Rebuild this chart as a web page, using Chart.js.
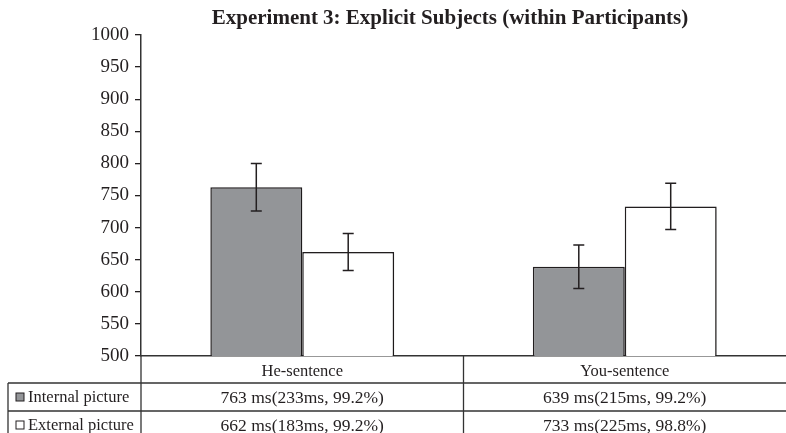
<!DOCTYPE html>
<html>
<head>
<meta charset="utf-8">
<script src="https://cdn.jsdelivr.net/npm/chart.js@4/dist/chart.umd.min.js"></script>
<style>
    html, body { margin: 0; padding: 0; background: #fff; }
    #wrap { width: 786px; height: 433px; position: relative; }
</style>
</head>
<body>
<div id="wrap"><canvas id="expChart"></canvas></div>
<script>
// Data
const categories = ['He-sentence', 'You-sentence'];
const seriesNames = ['Internal picture', 'External picture'];
const internalRT = [763, 639];
const externalRT = [662, 733];
const internalErr = [37, 34];
const externalErr = [29, 36];
const internalCells = ['763 ms(233ms, 99.2%)', '639 ms(215ms, 99.2%)'];
const externalCells = ['662 ms(183ms, 99.2%)', '733 ms(225ms, 98.8%)'];
const yTicks = [500, 550, 600, 650, 700, 750, 800, 850, 900, 950, 1000];

const titleText = 'Experiment 3: Explicit Subjects (within Participants)';
const serif = '"Liberation Serif", "Times New Roman", serif';
const ink = '#231f20';
const grayFill = '#939598';

const errors = [internalErr, externalErr];
const cells = [internalCells, externalCells];
const fills = [grayFill, '#ffffff'];

// Error bars, bar shadow, title and the data table underneath
const figurePlugin = {
    id: 'figurePlugin',
    beforeDatasetsDraw(chart) {
        const ctx = chart.ctx;
        ctx.save();
        ctx.shadowColor = 'rgba(0,0,0,0.22)';
        ctx.shadowBlur = 3;
        ctx.shadowOffsetX = 2;
        ctx.shadowOffsetY = 1;
    },
    afterDatasetsDraw(chart) {
        const ctx = chart.ctx;
        ctx.restore();
        const yScale = chart.scales.y;

        ctx.save();
        ctx.strokeStyle = ink;
        ctx.lineWidth = 1.5;
        chart.data.datasets.forEach((ds, di) => {
            const meta = chart.getDatasetMeta(di);
            meta.data.forEach((bar, i) => {
                const v = ds.data[i];
                const e = errors[di][i];
                const x = bar.x;
                const yHi = yScale.getPixelForValue(v + e);
                const yLo = yScale.getPixelForValue(v - e);
                ctx.beginPath();
                ctx.moveTo(x, yHi); ctx.lineTo(x, yLo);
                ctx.moveTo(x - 5.5, yHi); ctx.lineTo(x + 5.5, yHi);
                ctx.moveTo(x - 5.5, yLo); ctx.lineTo(x + 5.5, yLo);
                ctx.stroke();
            });
        });
        ctx.restore();
    },
    afterDraw(chart) {
        const ctx = chart.ctx;
        const area = chart.chartArea;
        const xScale = chart.scales.x;
        const catW = (xScale.right - xScale.left) / categories.length;
        const W = chart.width;
        const H = chart.height;
        const rowTop = [area.bottom, area.bottom + 27, area.bottom + 55];
        const rowH = [27, 28, 28];
        const leftEdge = 8;

        ctx.save();
        // title
        ctx.fillStyle = ink;
        ctx.font = 'bold 21px ' + serif;
        ctx.textAlign = 'center';
        ctx.textBaseline = 'middle';
        ctx.fillText(titleText, 450, 19);

        // table lines
        ctx.strokeStyle = '#333';
        ctx.lineWidth = 1.3;
        ctx.beginPath();
        ctx.moveTo(leftEdge, rowTop[1]); ctx.lineTo(W, rowTop[1]);
        ctx.moveTo(leftEdge, rowTop[2]); ctx.lineTo(W, rowTop[2]);
        ctx.moveTo(leftEdge, rowTop[1]); ctx.lineTo(leftEdge, H);
        ctx.moveTo(area.left, area.bottom); ctx.lineTo(area.left, H);
        for (let i = 1; i < categories.length; i++) {
            const bx = xScale.left + catW * i;
            ctx.moveTo(bx, area.bottom); ctx.lineTo(bx, H);
        }
        ctx.stroke();

        // category labels and cells
        ctx.fillStyle = ink;
        ctx.textAlign = 'center';
        categories.forEach((c, i) => {
            const cx = xScale.getPixelForValue(i);
            ctx.font = '16.5px ' + serif;
            ctx.fillText(c, cx, rowTop[0] + rowH[0] / 2 + 2);
            ctx.font = '17.5px ' + serif;
            ctx.fillText(cells[0][i], cx, rowTop[1] + rowH[1] / 2 + 1);
            ctx.fillText(cells[1][i], cx, rowTop[2] + rowH[2] / 2 + 1);
        });

        // row headers with legend swatches
        ctx.font = '16.5px ' + serif;
        seriesNames.forEach((name, s) => {
            const cy = rowTop[s + 1] + rowH[s + 1] / 2;
            ctx.fillStyle = fills[s];
            ctx.fillRect(16, cy - 4, 8, 8);
            ctx.strokeStyle = ink;
            ctx.lineWidth = 1;
            ctx.strokeRect(16, cy - 4, 8, 8);
            ctx.fillStyle = ink;
            ctx.textAlign = 'left';
            ctx.fillText(name, 28, cy + 1);
        });
        ctx.restore();
    }
};

new Chart(document.getElementById('expChart').getContext('2d'), {
    type: 'bar',
    data: {
        labels: categories,
        datasets: [
            {
                label: seriesNames[0],
                data: internalRT,
                backgroundColor: grayFill,
                borderColor: ink,
                borderWidth: 1.5,
                borderSkipped: false,
                categoryPercentage: 0.57,
                barPercentage: 1.0
            },
            {
                label: seriesNames[1],
                data: externalRT,
                backgroundColor: '#ffffff',
                borderColor: ink,
                borderWidth: 1.5,
                borderSkipped: false,
                categoryPercentage: 0.57,
                barPercentage: 1.0
            }
        ]
    },
    options: {
        responsive: true,
        maintainAspectRatio: false,
        animation: false,
        layout: { padding: { top: 35, left: 0, right: 0, bottom: 0 } },
        plugins: {
            legend: { display: false },
            title: { display: false },
            tooltip: { enabled: false }
        },
        scales: {
            y: {
                min: 500,
                max: 1000,
                afterFit: scale => { scale.width = 141; },
                afterBuildTicks: scale => { scale.ticks = yTicks.map(v => ({ value: v })); },
                ticks: {
                    color: ink,
                    padding: 6,
                    font: { family: serif, size: 19 },
                    callback: value => String(value)
                },
                grid: { display: true, drawOnChartArea: false, drawTicks: true, tickLength: 6, color: ink, lineWidth: 1.3 },
                border: { display: true, color: '#333', width: 1.5 }
            },
            x: {
                afterFit: scale => { scale.height = 77; },
                ticks: { display: false },
                grid: { display: false },
                border: { display: true, color: '#333', width: 1.5 }
            }
        }
    },
    plugins: [figurePlugin]
});
</script>
</body>
</html>
